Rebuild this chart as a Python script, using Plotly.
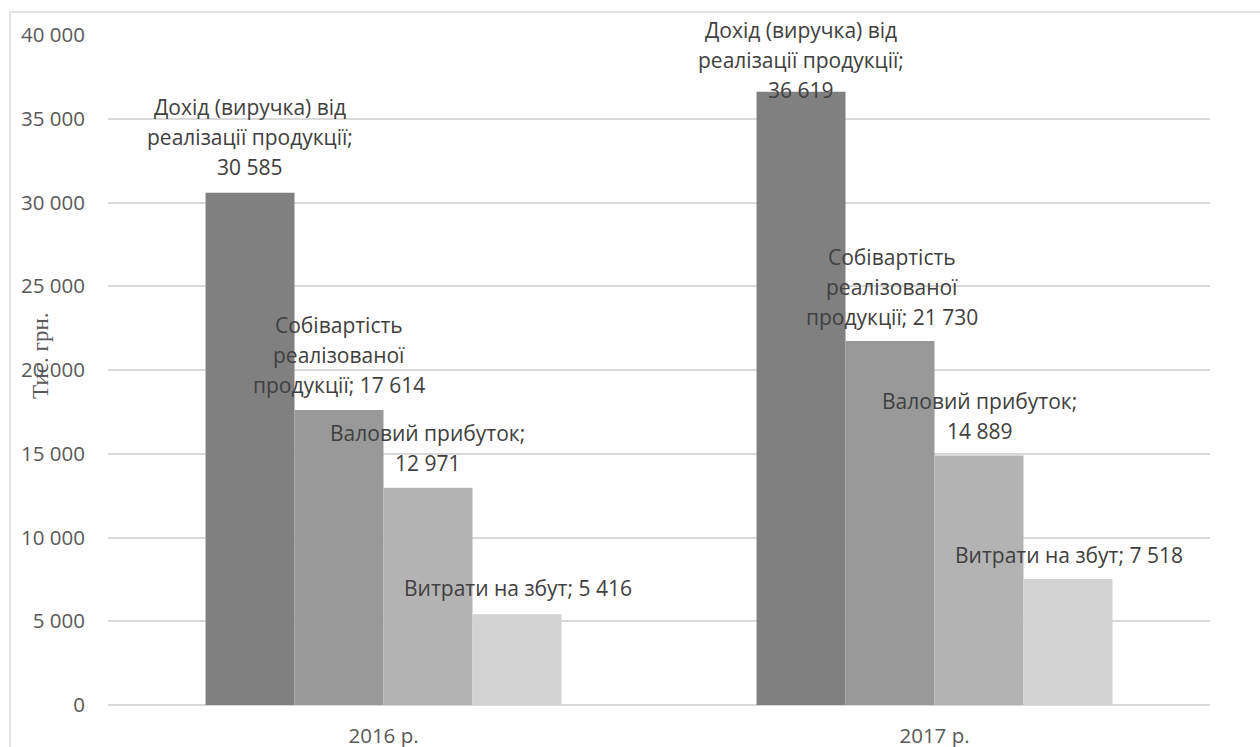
import plotly.graph_objects as go

categories = ["2016 р.", "2017 р."]
series_names = [
    "Дохід (виручка) від реалізації продукції",
    "Собівартість реалізованої продукції",
    "Валовий прибуток",
    "Витрати на збут",
]
values_2016 = [30585, 17614, 12971, 5416]
values_2017 = [36619, 21730, 14889, 7518]
series_colors = ["#808080", "#999999", "#b3b3b3", "#d2d2d2"]

# wrapped label lines (text split as in the reference)
label_lines_2016 = [
    ["Дохід (виручка) від", "реалізації продукції;", "{v}"],
    ["Собівартість", "реалізованої", "продукції; {v}"],
    ["Валовий прибуток;", "{v}"],
    ["Витрати на збут; {v}"],
]
label_lines_2017 = [
    ["Дохід (виручка) від", "реалізації продукції;", "{v}"],
    ["Собівартість", "реалізованої", "продукції; {v}"],
    ["Валовий прибуток;", "{v}"],
    ["Витрати на збут; {v}"],
]
# label placement nudges (px): (x shift, gap of last line above bar top)
label_nudge_2016 = [(0, 26), (0, 25), (0, 25), (1, 26)]
label_nudge_2017 = [(0, 2), (2, 24), (1, 25), (1, 24)]

values_by_year = [values_2016, values_2017]
lines_by_year = [label_lines_2016, label_lines_2017]
nudge_by_year = [label_nudge_2016, label_nudge_2017]

FONT = "Open Sans"
TXT = "#404040"
TICK = "#595959"
LINE_H = 30
BARGAP = 0.354
bar_w = (1 - BARGAP) / 4


def fmt(v):
    return f"{v:,}".replace(",", " ")


fig = go.Figure()
for j, name in enumerate(series_names):
    fig.add_trace(go.Bar(
        x=categories,
        y=[values_2016[j], values_2017[j]],
        name=name,
        marker=dict(color=series_colors[j], line=dict(width=0)),
        hoverinfo="skip",
    ))

annotations = []
for i in range(len(categories)):
    for j in range(len(series_names)):
        v = values_by_year[i][j]
        lines = lines_by_year[i][j]
        dx, gap = nudge_by_year[i][j]
        n = len(lines)
        for k, ln in enumerate(lines):
            annotations.append(dict(
                x=i + (j - 1.5) * bar_w, y=v, xref="x", yref="y",
                text=ln.format(v=fmt(v)), showarrow=False,
                xanchor="center", yanchor="middle",
                xshift=dx, yshift=gap + (n - 1 - k) * LINE_H,
                font=dict(family=FONT, size=21, color=TXT),
            ))

annotations.append(dict(
    x=(40 - 108) / 1102, y=(705 - 356) / 670, xref="paper", yref="paper",
    text="Тис. грн.", showarrow=False, textangle=-90,
    xanchor="center", yanchor="middle",
    font=dict(family="Liberation Serif", size=23, color=TICK),
))

fig.update_layout(
    width=1260, height=747,
    margin=dict(l=108, r=50, t=35, b=42, autoexpand=False),
    paper_bgcolor="white", plot_bgcolor="white",
    barmode="group", bargap=BARGAP, bargroupgap=0,
    showlegend=False,
    separators=", ",
    annotations=annotations,
    font=dict(family=FONT, color=TICK),
    shapes=[dict(
        type="path", xref="paper", yref="paper",
        path=f"M {(10-108)/1102} -0.2 L {(10-108)/1102} {(705-12)/670} L {(1262-108)/1102} {(705-12)/670}",
        line=dict(color="#d9d9d9", width=1.5),
    )],
)
fig.update_xaxes(
    type="category", showgrid=False, showline=False, ticks="",
    tickfont=dict(family=FONT, size=20.5, color=TICK),
    ticklabelstandoff=16, automargin=False,
)
fig.update_yaxes(
    range=[0, 40000], dtick=5000, tickformat=",d",
    showgrid=True, gridcolor="#d9d9d9", gridwidth=1.5,
    zeroline=True, zerolinecolor="#d9d9d9", zerolinewidth=1.5,
    showline=False, ticks="",
    tickfont=dict(family=FONT, size=20.5, color=TICK),
    ticklabelstandoff=22, automargin=False,
)

fig.write_html("out.html")
